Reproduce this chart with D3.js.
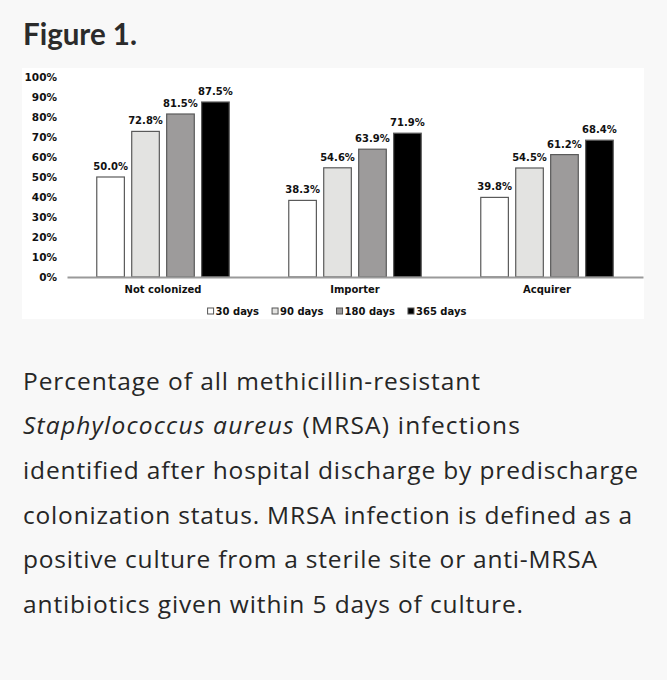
<!DOCTYPE html>
<html>
<head>
<meta charset="utf-8">
<script src="https://cdn.jsdelivr.net/npm/d3@7/dist/d3.min.js"></script>
<style>
  html, body { margin: 0; padding: 0; background: #f8f8f8; }
  svg { display: block; }
  .cap text { font-variant-ligatures: none; font-feature-settings: "liga" 0, "clig" 0, "dlig" 0; }
</style>
</head>
<body>
<svg id="chart" width="667" height="680"></svg>
<script>
// ---- data ----
const groups = ["Not colonized", "Importer", "Acquirer"];
const series = ["30 days", "90 days", "180 days", "365 days"];
const values30 = [50.0, 38.3, 39.8];
const values90 = [72.8, 54.6, 54.5];
const values180 = [81.5, 63.9, 61.2];
const values365 = [87.5, 71.9, 68.4];
const yTicks = [0, 10, 20, 30, 40, 50, 60, 70, 80, 90, 100];
const seriesColors = ["#ffffff", "#e3e3e1", "#9d9b9b", "#000000"];
const titleText = "Figure 1.";
const captionLines = [
  [{t: "Percentage of all methicillin-resistant"}],
  [{t: "Staphylococcus aureus", i: true}, {t: " (MRSA) infections"}],
  [{t: "identified after hospital discharge by predischarge"}],
  [{t: "colonization status. MRSA infection is defined as a"}],
  [{t: "positive culture from a sterile site or anti-MRSA"}],
  [{t: "antibiotics given within 5 days of culture."}]
];
// measured line lengths of the caption in the reference (layout)
const captionWidths = [457, 497, 615, 609, 574, 500];

const seriesValues = [values30, values90, values180, values365];
const table = groups.map((g, gi) => ({
  group: g,
  bars: series.map((s, si) => ({ series: s, si, value: seriesValues[si][gi] }))
}));

const svg = d3.select("#chart");

// title
svg.append("text")
  .attr("x", 23).attr("y", 45)
  .attr("font-family", "Lato, 'Open Sans', sans-serif")
  .attr("font-weight", 700)
  .attr("font-size", 29.5)
  .attr("fill", "#2b2b2b")
  .text(titleText);

// chart panel
svg.append("rect")
  .attr("x", 22).attr("y", 68).attr("width", 622).attr("height", 251)
  .attr("fill", "#ffffff");

const x0 = d3.scaleBand().domain(groups).range([67, 643]).paddingInner(0.31).paddingOuter(0.155);
const x1 = d3.scaleBand().domain(series).range([0, x0.bandwidth()]).paddingInner(0.21).paddingOuter(0);
const y = d3.scaleLinear().domain([0, 100]).range([277, 77]);

const chartFont = "Verdana, 'DejaVu Sans', sans-serif";

// y axis labels
const yAxis = d3.axisLeft(y).tickValues(yTicks).tickFormat(d => d + "%").tickSize(0).tickPadding(0);
const yg = svg.append("g").attr("transform", "translate(57,0)").call(yAxis);
yg.select(".domain").remove();
yg.selectAll("text")
  .attr("font-family", chartFont).attr("font-weight", "bold").attr("font-size", 10.5)
  .attr("fill", "#111");

// bars
const gsel = svg.selectAll("g.grp").data(table).enter().append("g")
  .attr("class", "grp")
  .attr("transform", d => `translate(${x0(d.group)},0)`);

gsel.selectAll("rect").data(d => d.bars).enter().append("rect")
  .attr("x", d => x1(d.series))
  .attr("y", d => y(d.value))
  .attr("width", x1.bandwidth())
  .attr("height", d => y(0) - y(d.value))
  .attr("fill", d => seriesColors[d.si])
  .attr("stroke", "#5a5a5a")
  .attr("stroke-width", 1.2);

gsel.selectAll("text.val").data(d => d.bars).enter().append("text")
  .attr("class", "val")
  .attr("x", d => x1(d.series) + x1.bandwidth() / 2)
  .attr("y", d => y(d.value) - 7)
  .attr("text-anchor", "middle")
  .attr("font-family", chartFont).attr("font-weight", "bold").attr("font-size", 10)
  .attr("fill", "#111")
  .text(d => d.value.toFixed(1) + "%");

// baseline (x axis)
const xAxis = d3.axisBottom(x0).tickSize(0).tickPadding(0);
const xg = svg.append("g").attr("transform", `translate(0,${y(0)})`).call(xAxis);
xg.select(".domain").attr("stroke", "#9a9a9a").attr("stroke-width", 2);
xg.selectAll("text")
  .attr("dy", null).attr("y", 16)
  .attr("font-family", chartFont).attr("font-weight", "bold").attr("font-size", 10)
  .attr("fill", "#111");

// legend
const lg = svg.append("g");
const items = lg.selectAll("g").data(series).enter().append("g");
items.append("rect").attr("width", 6).attr("height", 6).attr("y", -7)
  .attr("fill", (d, i) => seriesColors[i]).attr("stroke", "#555").attr("stroke-width", 1);
items.append("text").attr("x", 8).attr("y", 0)
  .attr("font-family", chartFont).attr("font-weight", "bold").attr("font-size", 10)
  .attr("fill", "#111").text(d => d);
const widths = [];
items.each(function () { widths.push(8 + this.querySelector("text").getComputedTextLength()); });
const gap = 13;
const total = d3.sum(widths) + gap * (widths.length - 1);
const startX = 337 - total / 2;
items.attr("transform", (d, i) => {
  const tx = startX + d3.sum(widths.slice(0, i)) + gap * i;
  return `translate(${tx},315)`;
});

// caption
const cap = svg.append("g").attr("class", "cap")
  .attr("font-family", "'Open Sans', Lato, sans-serif")
  .attr("font-size", 24.5)
  .attr("fill", "#262626");
captionLines.forEach((line, li) => {
  const t = cap.append("text").attr("x", 23).attr("y", 389.5 + li * 44.7)
    .attr("textLength", captionWidths[li]).attr("lengthAdjust", "spacing");
  line.forEach(seg => {
    t.append("tspan").attr("font-style", seg.i ? "italic" : "normal").text(seg.t);
  });
});
</script>
</body>
</html>
